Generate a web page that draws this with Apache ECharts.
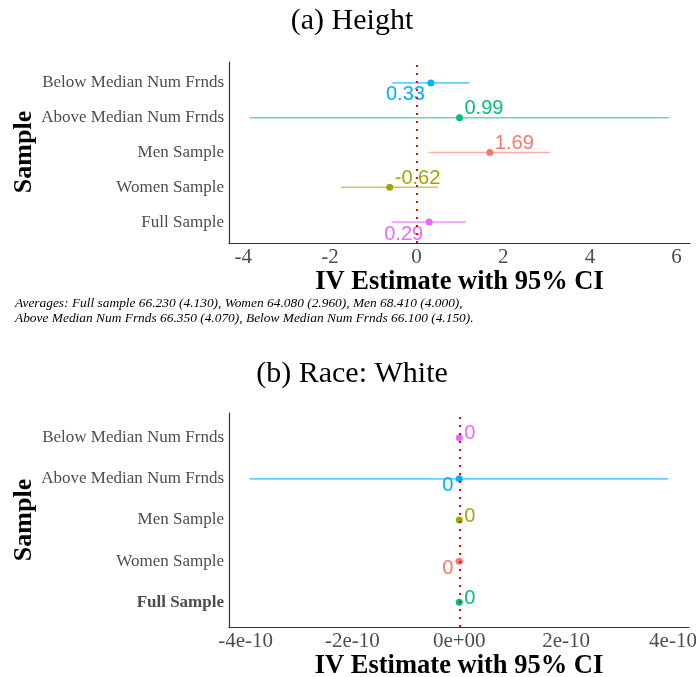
<!DOCTYPE html>
<html>
  <head>
    <meta charset="utf-8">
    <title></title>
    <script src="https://cdn.jsdelivr.net/npm/echarts@6/dist/echarts.min.js"></script>
    <style media="screen">
    html,body{
      height:100%;
      width:100%;
      margin:0px;
      background:#fff;
    }
    #chartDiv{
      width:696px;
      height:677px;
    }
    </style>
  </head>
  <body>
    <div id="chartDiv"></div>
    <script type="text/javascript">
      // categories, bottom to top (y = 1..5)
      var categories = ['Full Sample','Women Sample','Men Sample','Above Median Num Frnds','Below Median Num Frnds'];

      // (a) Height
      var heightEst = [0.29, -0.62, 1.69, 0.99, 0.33];
      var heightLo  = [-0.58, -1.75, 0.27, -3.85, -0.56];
      var heightHi  = [1.14, 0.50, 3.08, 5.83, 1.22];
      var heightTicks = [-4, -2, 0, 2, 4, 6];
      var heightTickLabels = ['-4','-2','0','2','4','6'];

      // (b) Race: White
      var whiteEst = [0, 0, 0, 0, 0];
      var whiteLo  = [-1e-12, -8e-12, -2e-12, -3.92e-10, -1e-12];
      var whiteHi  = [1e-12, 8e-12, 2e-12, 3.91e-10, 1e-12];
      var whiteTicks = [-4e-10, -2e-10, 0, 2e-10, 4e-10];
      var whiteTickLabels = ['-4e-10','-2e-10','0e+00','2e-10','4e-10'];

      var caption = [
        'Averages: Full sample 66.230 (4.130), Women 64.080 (2.960), Men 68.410 (4.000),',
        'Above Median Num Frnds 66.350 (4.070), Below Median Num Frnds 66.100 (4.150).'
      ];

      // colours & label sides per category (same order as categories)
      var heightColors = ['#E76BF3','#A3A500','#F8766D','#00BF7D','#00B0F6'];
      var whiteColors  = ['#00BF7D','#F8766D','#A3A500','#00B0F6','#E76BF3'];
      var heightSide = ['below','above','above','above','below'];
      var whiteSide  = ['above','below','above','below','above'];

      var serif = 'Liberation Serif';
      var sans = 'Liberation Sans';

      function labelFor(side, dy){
        if(side==='above'){
          return {position:[8.5,4.5+dy], align:'left', verticalAlign:'bottom'};
        }
        return {position:[-2.5,5.5-dy], align:'right', verticalAlign:'top'};
      }

      function panel(idx, est, lo, hi, colors, sides, fmt, dy){
        var ci = [], pts = [];
        for(var i=0;i<categories.length;i++){
          ci.push([lo[i], hi[i], i+1]);
          var lp = labelFor(sides[i], dy);
          pts.push({
            value:[est[i], i+1],
            itemStyle:{color:colors[i], opacity:1},
            label:{
              show:true,
              formatter:fmt(est[i]),
              color:colors[i],
              fontFamily:sans,
              fontSize:20,
              position:lp.position,
              align:lp.align,
              verticalAlign:lp.verticalAlign
            }
          });
        }
        return [
          {
            type:'custom',
            xAxisIndex:idx, yAxisIndex:idx,
            encode:{x:[0,1], y:2},
            data:ci,
            z:2,
            renderItem:function(params, api){
              var y = api.value(2);
              var a = api.coord([api.value(0), y]);
              var b = api.coord([api.value(1), y]);
              return {
                type:'line',
                shape:{x1:a[0], y1:a[1], x2:b[0], y2:b[1]},
                style:{stroke:colors[params.dataIndex], lineWidth:1.6, opacity:0.6}
              };
            }
          },
          {
            type:'scatter',
            xAxisIndex:idx, yAxisIndex:idx,
            symbolSize:7,
            z:3,
            itemStyle:{opacity:1},
            data:pts
          },
          {
            type:'line',
            xAxisIndex:idx, yAxisIndex:idx,
            data:[],
            z:5,
            markLine:{
              silent:true,
              symbol:'none',
              label:{show:false},
              lineStyle:{color:'#ff0000', type:[2,6], width:2},
              data:[{xAxis:0}]
            }
          }
        ];
      }

      function yAxisFor(idx, boldFull){
        return {
          type:'value', gridIndex:idx, min:0.4, max:5.6,
          axisLine:{show:true, onZero:false, lineStyle:{color:'#333', width:1.2}},
          axisTick:{show:false},
          splitLine:{show:false},
          axisLabel:{
            customValues:[1,2,3,4,5],
            margin:5,
            color:'#4D4D4D',
            fontFamily:serif,
            fontSize:17,
            formatter:function(v){
              var c = categories[Math.round(v)-1];
              if(boldFull && c==='Full Sample'){ return '{b|'+c+'}'; }
              return c;
            },
            rich:{b:{fontWeight:'bold', fontFamily:serif, fontSize:17, color:'#4D4D4D'}}
          }
        };
      }

      function xAxisFor(idx, min, max, ticks, tickLabels, gap){
        return {
          type:'value', gridIndex:idx, min:min, max:max,
          axisLine:{show:true, onZero:false, lineStyle:{color:'#333', width:1.2}},
          axisTick:{show:false},
          splitLine:{show:false},
          name:'IV Estimate with 95% CI',
          nameLocation:'middle',
          nameGap:gap,
          nameTextStyle:{fontFamily:serif, fontWeight:'bold', fontSize:26.5, color:'#000'},
          axisLabel:{
            customValues:ticks,
            margin:4,
            color:'#4D4D4D',
            fontFamily:serif,
            fontSize:21,
            formatter:function(v){
              for(var i=0;i<ticks.length;i++){
                if(Math.abs(ticks[i]-v) <= Math.abs(ticks[1]-ticks[0])*1e-6){ return tickLabels[i]; }
              }
              return '';
            }
          }
        };
      }

      var option = {
        animation:false,
        backgroundColor:'#fff',
        grid:[
          {left:229, top:62, width:461, height:181, outerBoundsMode:'none'},
          {left:229, top:413, width:460, height:214, outerBoundsMode:'none'}
        ],
        xAxis:[
          xAxisFor(0, -4.33, 6.31, heightTicks, heightTickLabels, 19),
          xAxisFor(1, -4.31e-10, 4.30e-10, whiteTicks, whiteTickLabels, 19)
        ],
        yAxis:[ yAxisFor(0, false), yAxisFor(1, true) ],
        graphic:[
          {type:'text', x:352, y:21, style:{text:'(a) Height', font:'30px "Liberation Serif"', fill:'#000', align:'center', verticalAlign:'middle'}},
          {type:'text', x:352, y:374, style:{text:'(b) Race: White', font:'30px "Liberation Serif"', fill:'#000', align:'center', verticalAlign:'middle'}},
          {type:'text', x:24, y:152, rotation:Math.PI/2, style:{text:'Sample', font:'bold 26px "Liberation Serif"', fill:'#000', align:'center', verticalAlign:'middle'}},
          {type:'text', x:24, y:520, rotation:Math.PI/2, style:{text:'Sample', font:'bold 26px "Liberation Serif"', fill:'#000', align:'center', verticalAlign:'middle'}},
          {type:'text', x:15, y:303, style:{text:caption[0], font:'italic 13.4px "Liberation Serif"', fill:'#000', align:'left', verticalAlign:'middle'}},
          {type:'text', x:15, y:318, style:{text:caption[1], font:'italic 13.4px "Liberation Serif"', fill:'#000', align:'left', verticalAlign:'middle'}}
        ],
        series:[].concat(
          panel(0, heightEst, heightLo, heightHi, heightColors, heightSide, function(v){ return v.toFixed(2); }, 0),
          panel(1, whiteEst, whiteLo, whiteHi, whiteColors, whiteSide, function(v){ return String(Math.round(v)); }, 5)
        )
      };

      var chart = echarts.init(document.getElementById('chartDiv'));
      chart.setOption(option);
    </script>
  </body>
</html>
